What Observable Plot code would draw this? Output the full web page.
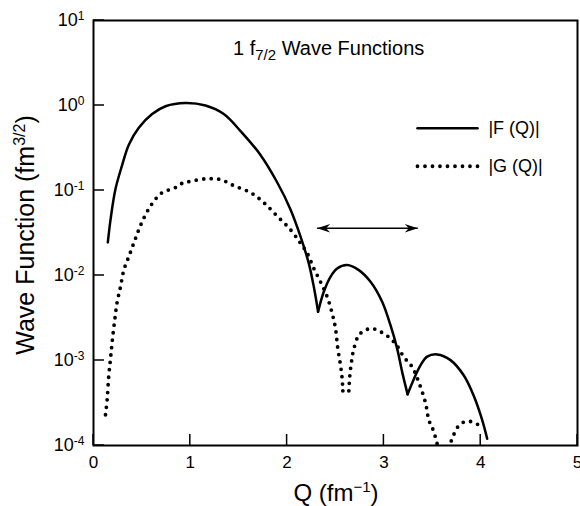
<!DOCTYPE html>
<html><head><meta charset="utf-8">
<script src="https://cdn.jsdelivr.net/npm/d3@7"></script>
<script src="https://cdn.jsdelivr.net/npm/@observablehq/plot@0.6"></script>
<style>body{margin:0;background:#fff} #chart svg{display:block}</style>
</head><body><div id="chart"></div>
<script>
// |F(Q)| solid curve
const fQ = [0.148,0.176,0.227,0.296,0.365,0.468,0.606,0.744,0.95,1.157,1.346,1.519,1.725,1.897,2.035,2.138,2.224,2.276,2.32,
            2.379,2.448,2.517,2.62,2.741,2.862,2.982,3.068,3.137,3.189,3.245,
            3.31,3.378,3.447,3.55,3.688,3.826,3.929,4.015,4.067];
const fVal = [0.0245,0.0455,0.104,0.199,0.346,0.548,0.794,0.98,1.07,1.0,0.794,0.5,0.262,0.125,0.0599,0.0289,0.0139,0.00736,0.00375,
              0.00643,0.00966,0.0121,0.0133,0.01156,0.00843,0.00491,0.0026,0.00138,0.00073,0.0004,
              0.000607,0.000877,0.00111,0.00118,0.00101,0.000665,0.000382,0.0002,0.00012];
const fCusps = [2.32, 3.245];
// |G(Q)| dotted curve
const gQ = [0.124,0.141,0.158,0.176,0.193,0.217,0.245,0.279,0.313,0.365,0.416,0.468,0.53,0.613,0.71,0.837,0.916,1.0,1.157,1.312,
            1.45,1.622,1.76,1.897,2.035,2.138,2.208,2.276,2.345,2.414,2.466,2.5,2.524,2.552,2.569,2.576,
            2.638,2.648,2.665,2.69,2.741,2.81,2.879,2.955,3.034,3.127,3.206,3.292,3.361,3.43,3.464,3.509,3.55,
            3.615,3.68,3.705,3.764,3.833,3.912,3.98];
const gVal = [0.00023,0.000348,0.000665,0.00106,0.00166,0.00285,0.00491,0.00736,0.01156,0.0167,0.024,0.0346,0.05,0.072,0.0946,0.107,0.1215,0.128,0.137,0.1346,
              0.114,0.0946,0.072,0.05,0.0346,0.024,0.0183,0.0121,0.00843,0.00562,0.00357,0.00238,0.00138,0.000877,0.000607,0.00044,
              0.00044,0.000665,0.000964,0.00138,0.00199,0.00228,0.00238,0.00221,0.00195,0.00154,0.0011,0.00084,0.000553,0.000318,0.0002,0.000152,0.000105,
              0.00005,0.0001,0.00012,0.000166,0.00019,0.00019,0.000174];
const gCusps = [2.576, 2.638];

const xTicks = [0,1,2,3,4,5];
const yTicks = [1e-4,1e-3,1e-2,1e-1,1,10];
const legendLabels = ["|F (Q)|","|G (Q)|"];
const legendLineX = [3.347, 3.967];
const legendY = [0.54, 0.193];
const legendTextX = 4.08;
const arrowX = [2.31, 3.35];
const arrowY = 0.036;
const titleX = 1.446, titleY = 3.9;

function segments(qs, vs, cusps) {
  const out = []; let s = 0;
  qs.forEach((q, i) => {
    out.push({q, v: vs[i], s});
    if (cusps.includes(q)) { s++; out.push({q, v: vs[i], s}); }
  });
  return out;
}
const fData = segments(fQ, fVal, fCusps);
const gData = segments(gQ, gVal, gCusps);
const legF = legendLineX.map(q=>({q, v:legendY[0]}));
const legG = legendLineX.map(q=>({q, v:legendY[1]}));
const legText = legendLabels.map((t,i)=>({t, q:legendTextX, v:legendY[i]}));

const dartRight = {draw(c){c.moveTo(0,0);c.lineTo(-13,-4.2);c.lineTo(-9,0);c.lineTo(-13,4.2);c.closePath();}};
const dartLeft  = {draw(c){c.moveTo(0,0);c.lineTo(13,-4.2);c.lineTo(9,0);c.lineTo(13,4.2);c.closePath();}};

const FONT = "'Liberation Sans', Arial, Helvetica, sans-serif";
const TICK = 11;

const plot = Plot.plot({
  width: 580, height: 506,
  marginLeft: 93, marginRight: 3, marginTop: 20, marginBottom: 61,
  style: {fontFamily: FONT, fontSize: "16px", background: "white", color: "black"},
  x: {domain: [0,5], label: null},
  y: {type: "log", domain: [1e-4, 10], label: null},
  marks: [
    Plot.axisX({ticks: xTicks, tickSize: 0, tickPadding: 10, tickFormat: d => String(d)}),
    Plot.axisY({ticks: yTicks, tickSize: 0, tickPadding: 9, tickFormat: d => "10^" + Math.round(Math.log10(d))}),
    Plot.line(fData, {x: "q", y: "v", z: "s", curve: "catmull-rom", stroke: "black", strokeWidth: 2.5, clip: true}),
    Plot.line(gData, {x: "q", y: "v", z: "s", curve: "catmull-rom", stroke: "black", strokeWidth: 3.8, strokeDasharray: "0 7.5", strokeLinecap: "round", clip: true}),
    Plot.line(legF, {x: "q", y: "v", stroke: "black", strokeWidth: 2.5}),
    Plot.line(legG, {x: "q", y: "v", stroke: "black", strokeWidth: 3.8, strokeDasharray: "0 7.5", strokeLinecap: "round"}),
    Plot.text(legText, {x: "q", y: "v", text: "t", textAnchor: "start", fill: "black", fontSize: 18}),
    Plot.link([{x1: arrowX[0], x2: arrowX[1], y: arrowY}], {x1: "x1", x2: "x2", y1: "y", y2: "y", stroke: "black", strokeWidth: 1.6}),
    Plot.dot([{x: arrowX[1], y: arrowY}], {x: "x", y: "y", symbol: dartRight, fill: "black", stroke: "none"}),
    Plot.dot([{x: arrowX[0], y: arrowY}], {x: "x", y: "y", symbol: dartLeft, fill: "black", stroke: "none"}),
    Plot.frame({stroke: "black", strokeWidth: 2})
  ]
});

document.getElementById("chart").appendChild(plot);

const svg = d3.select(plot);
const xs = plot.scale("x"), ys = plot.scale("y");

// inward tick marks, placed with the plot's own scales
const tg = svg.append("g").attr("stroke", "black").attr("stroke-width", 1.5);
const yBase = ys.apply(yTicks[0]), xBase = xs.apply(xTicks[0]);
xTicks.forEach(t => tg.append("line").attr("x1", xs.apply(t)).attr("x2", xs.apply(t)).attr("y1", yBase).attr("y2", yBase - TICK));
yTicks.forEach(t => tg.append("line").attr("x1", xBase).attr("x2", xBase + TICK).attr("y1", ys.apply(t)).attr("y2", ys.apply(t)));

// tick label sizes and superscripts
svg.selectAll("g[aria-label='x-axis tick label']").attr("font-size", 17).selectAll("text").attr("font-size", 17).style("font-size", "17px");
svg.selectAll("g[aria-label='y-axis tick label']").attr("font-size", 18).selectAll("text").attr("font-size", 18).style("font-size", "18px");
svg.selectAll("text").each(function(){
  const m = /^10\^(-?\d+)$/.exec(this.textContent);
  if (m) {
    this.textContent = "10";
    d3.select(this).append("tspan").attr("dy", "-0.5em").attr("font-size", 12).style("font-size", "12px").text(m[1]);
  }
});

// title
const tt = svg.append("text").attr("x", xs.apply(titleX)).attr("y", ys.apply(titleY)).attr("text-anchor", "start")
  .attr("font-family", FONT).attr("font-size", 20).attr("fill", "black");
tt.append("tspan").text("1 f");
tt.append("tspan").attr("dy", 5).attr("font-size", 15).text("7/2");
tt.append("tspan").attr("dy", -5).text(" Wave Functions");

// x label
const xl = svg.append("text").attr("x", 336).attr("y", 501).attr("text-anchor", "middle")
  .attr("font-family", FONT).attr("font-size", 24).attr("fill", "black");
xl.append("tspan").text("Q (fm");
xl.append("tspan").attr("dy", -9).attr("font-size", 15).text("\u22121");
xl.append("tspan").attr("dy", 9).text(")");

// y label
const yl = svg.append("text").attr("transform", "translate(34,235) rotate(-90)").attr("text-anchor", "middle")
  .attr("font-family", FONT).attr("font-size", 25).attr("fill", "black");
yl.append("tspan").text("Wave Function (fm");
yl.append("tspan").attr("dy", -9).attr("font-size", 16).text("3/2");
yl.append("tspan").attr("dy", 9).text(")");
</script>
</body></html>
